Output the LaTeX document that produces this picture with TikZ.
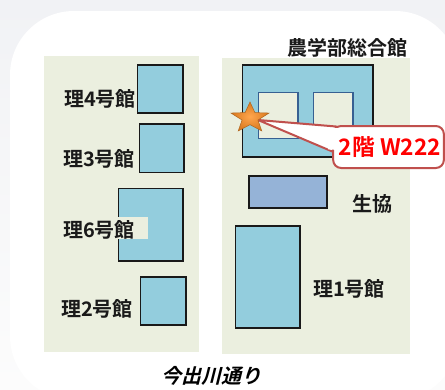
\documentclass[tikz,border=0pt]{standalone}
\usepackage{fontspec}
\usetikzlibrary{shapes.geometric,calc}
\newfontfamily\jpb{Noto Sans CJK JP Bold}
\definecolor{pagetop}{HTML}{F1F2F5}
\definecolor{pagebot}{HTML}{FCFCFC}
\definecolor{panel}{HTML}{EBEFDF}
\definecolor{bldg}{HTML}{93CDDD}
\definecolor{coop}{HTML}{95B3D7}
\definecolor{court}{HTML}{376092}
\definecolor{callout}{HTML}{C0504D}
\definecolor{labeltext}{HTML}{1A1A1A}
\definecolor{starin}{HTML}{FFA64D}
\definecolor{starout}{HTML}{D9791F}
\definecolor{staredge}{HTML}{B0661E}
\tikzset{
  panelbox/.style={fill=panel,draw=none},
  bldgbox/.style={fill=bldg,draw=black!90,line width=1.2pt},
  courtbox/.style={fill=panel,draw=court,line width=1.1pt},
  lbl/.style={font=\jpb\fontsize{15}{15}\selectfont,text=labeltext,inner sep=0pt,anchor=center},
}
\begin{document}
\begin{tikzpicture}[x=0.75pt,y=-0.75pt]
\useasboundingbox (0,0) rectangle (445,389);
\shade[top color=pagetop,bottom color=pagebot] (0,0) rectangle (445,389);
\fill[white,rounded corners=48] (10,11) rectangle (459,400);
% panels
\path[panelbox] (44,56) rectangle (199,352);
\path[panelbox] (222,58) rectangle (410,354);
% left buildings
\draw[bldgbox] (137.5,65) rectangle (183,113);
\draw[bldgbox] (139.5,124) rectangle (184,172.5);
\draw[bldgbox] (118.5,188.5) rectangle (183,261);
\fill[panel] (118,217) rectangle (148,239);
\draw[bldgbox] (140.5,277) rectangle (186,325);
% right buildings
\draw[bldgbox] (242.5,65) rectangle (373,157);
\draw[courtbox] (258.5,92.5) rectangle (298,138.5);
\draw[courtbox] (313.5,92.5) rectangle (353,138.5);
\draw[bldgbox,fill=coop] (249,176) rectangle (327,208);
\draw[bldgbox] (235.5,226) rectangle (300,328);
% labels
\node[lbl] (l4) at (100,99) {理4号館};
\node[lbl] (l3) at (99,159) {理3号館};
\node[lbl] (l6) at (99,230) {理6号館};
\node[lbl] (l2) at (97,309) {理2号館};
\node[lbl] (l1) at (349,289) {理1号館};
\node[lbl] (lc) at (372,204) {生協};
\node[lbl] (lf) at (347,48) {農学部総合館};
\node[lbl,xslant=0.25,text=black] (lr) at (213,376) {今出川通り};
% callout
\coordinate (tip) at (258,120);
\draw[callout,line width=1.5pt,fill=white,line join=round] (tip) -- (336,126.5) -- (333.5,152) -- cycle;
\node[draw=callout,line width=1.5pt,fill=white,rounded corners=6,minimum width=83pt,minimum height=31.5pt,inner sep=0pt,
      text=red] (cb) at (388.5,147) {};
\fill[white] (328,128) -- (338,128) -- (338,150) -- (328,149.4) -- cycle;
\node[inner sep=0pt,font=\jpb\fontsize{17}{17}\selectfont,text=red] (ct) at (390,147) {2階 W222};
% star
\node[star,star points=5,star point ratio=2.4,minimum size=30pt,inner sep=0pt,
      yscale=.8,transform shape,
      draw=staredge,line width=.4pt,
      inner color=starin,outer color=starout] (st) at (250,118) {};
\end{tikzpicture}
\end{document}
